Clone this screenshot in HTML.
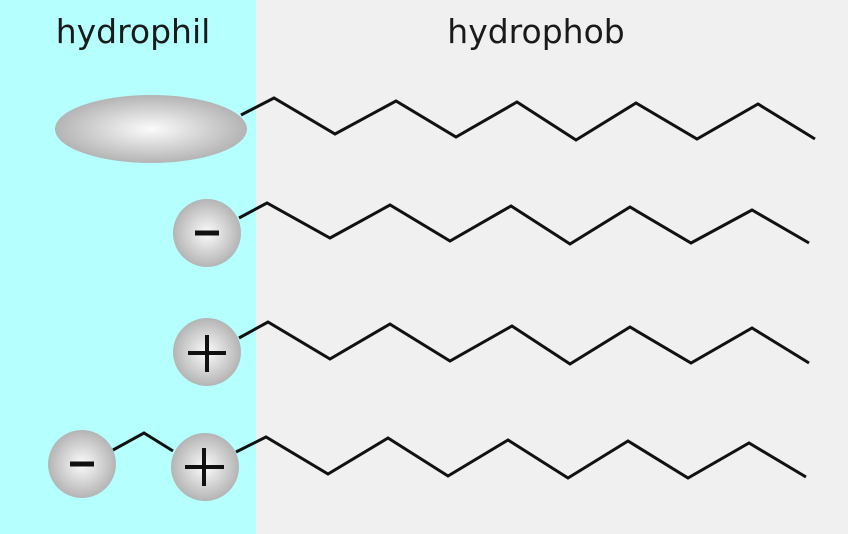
<!DOCTYPE html>
<html><head><meta charset="utf-8"><style>
html,body{margin:0;padding:0;width:848px;height:534px;overflow:hidden;background:#f0f0f0}
</style></head><body>
<svg width="848" height="534" viewBox="0 0 848 534" xmlns="http://www.w3.org/2000/svg">
<defs>
<radialGradient id="g" cx="50%" cy="50%" r="50%">
<stop offset="0" stop-color="#fbfbfb"/><stop offset="1" stop-color="#b4b4b4"/>
</radialGradient>
</defs>
<rect x="0" y="0" width="256" height="534" fill="#b5ffff"/>
<rect x="256" y="0" width="592" height="534" fill="#f0f0f0"/>
<text x="133" y="43" font-family="DejaVu Sans, sans-serif" font-size="33" text-anchor="middle" fill="#1a1a1a">hydrophil</text>
<text x="536" y="43" font-family="DejaVu Sans, sans-serif" font-size="33" text-anchor="middle" fill="#1a1a1a">hydrophob</text>
<g fill="none" stroke="#111" stroke-width="3" stroke-linejoin="miter">
<polyline points="241,115 274,98 335,134 396,101 456,137 517,102 576,140 636,103 697,139 758,104 815,139"/>
<polyline points="239,218 267,203 330,238 390,205 450,241 511,206 570,244 630,207 691,243 752,210 809,243"/>
<polyline points="239,338 268,322 330,359 390,324 450,361 512,326 570,364 630,327 691,363 752,328 809,363"/>
<polyline points="236,452 266,437 328,474 388,438 448,476 508,440 568,478 628,441 688,478 749,443 806,477"/>
<polyline points="113,450 144,433 173,451"/>
</g>
<ellipse cx="151" cy="129" rx="96" ry="34" fill="url(#g)"/>
<circle cx="207" cy="233" r="34" fill="url(#g)"/>
<circle cx="207" cy="352" r="34" fill="url(#g)"/>
<circle cx="82" cy="464" r="34" fill="url(#g)"/>
<circle cx="205" cy="467" r="34" fill="url(#g)"/>
<g stroke="#111" stroke-width="5">
<line x1="195" y1="233" x2="219" y2="233"/>
<line x1="70" y1="464" x2="94" y2="464"/>
</g>
<g stroke="#111" stroke-width="4">
<line x1="188" y1="353" x2="226" y2="353"/><line x1="207" y1="335" x2="207" y2="372"/>
<line x1="185" y1="467" x2="224" y2="467"/><line x1="204" y1="448" x2="204" y2="486"/>
</g>
</svg>
</body></html>
